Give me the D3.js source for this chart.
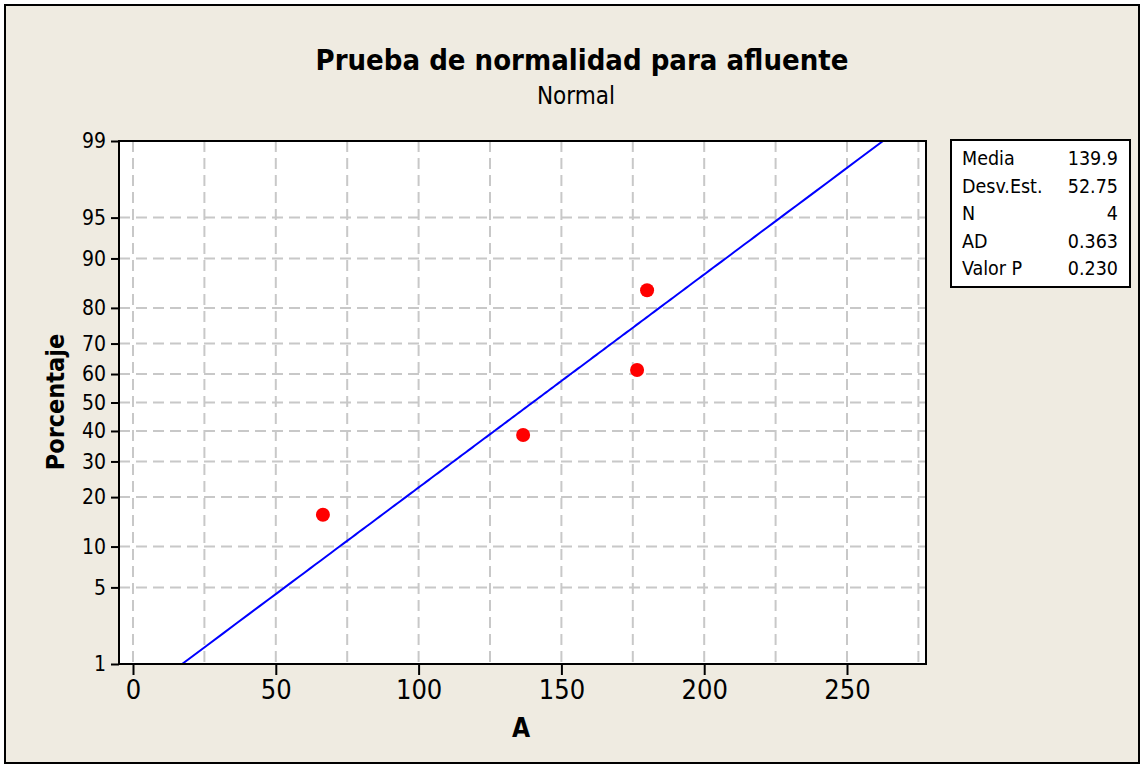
<!DOCTYPE html>
<html><head><meta charset="utf-8">
<script src="https://cdn.jsdelivr.net/npm/d3@7"></script>
<style>
html,body{margin:0;padding:0;background:#fff;}
svg{display:block;}
text{font-family:"DejaVu Sans Condensed","DejaVu Sans",sans-serif;fill:#000;}
</style></head>
<body>
<svg id="c" width="1144" height="768"></svg>
<script>
// ---- data ----
const titleText = "Prueba de normalidad para afluente";
const subtitleText = "Normal";
const xLabel = "A";
const yLabel = "Porcentaje";
const values = [66.5, 136.6, 176.5, 180.0];
const percents = [15.9, 38.6, 61.4, 84.1];
const xTicks = [0, 50, 100, 150, 200, 250];
const xGrid = [0, 25, 50, 75, 100, 125, 150, 175, 200, 225, 250, 275];
const yTicks = [1, 5, 10, 20, 30, 40, 50, 60, 70, 80, 90, 95, 99];
const statLabels = ["Media", "Desv.Est.", "N", "AD", "Valor P"];
const statValues = ["139.9", "52.75", "4", "0.363", "0.230"];
const fitMean = 139.9, fitSd = 52.75;

// inverse normal CDF (Acklam)
function qnorm(p){
  const a=[-3.969683028665376e+01,2.209460984245205e+02,-2.759285104469687e+02,1.383577518672690e+02,-3.066479806614716e+01,2.506628277459239e+00];
  const b=[-5.447609879822406e+01,1.615858368580409e+02,-1.556989798598866e+02,6.680131188771972e+01,-1.328068155288572e+01];
  const c=[-7.784894002430293e-03,-3.223964580411365e-01,-2.400758277161838e+00,-2.549671348159109e+00,4.374664141464968e+00,2.938163982698783e+00];
  const d=[7.784695709041462e-03,3.224671290700398e-01,2.445134137142996e+00,3.754408661907416e+00];
  const pl=0.02425, ph=1-pl; let q,r;
  if(p<pl){q=Math.sqrt(-2*Math.log(p));return (((((c[0]*q+c[1])*q+c[2])*q+c[3])*q+c[4])*q+c[5])/((((d[0]*q+d[1])*q+d[2])*q+d[3])*q+1);}
  if(p>ph){q=Math.sqrt(-2*Math.log(1-p));return -(((((c[0]*q+c[1])*q+c[2])*q+c[3])*q+c[4])*q+c[5])/((((d[0]*q+d[1])*q+d[2])*q+d[3])*q+1);}
  q=p-0.5;r=q*q;return (((((a[0]*r+a[1])*r+a[2])*r+a[3])*r+a[4])*r+a[5])*q/(((((b[0]*r+b[1])*r+b[2])*r+b[3])*r+b[4])*r+1);
}

const svg = d3.select("#c");
const W=1144,H=768;
const L=119, R=926, T=141, B=664;

svg.append("rect").attr("x",0).attr("y",0).attr("width",W).attr("height",H).attr("fill","#fff");
svg.append("rect").attr("x",5).attr("y",5).attr("width",1134).attr("height",758)
  .attr("fill","#EFEBE1").attr("stroke","#000").attr("stroke-width",2);

// scales
const x = d3.scaleLinear().domain([0,250]).range([133,847]);
const zLin = d3.scaleLinear().domain([qnorm(0.01), qnorm(0.99)]).range([B, T]);
function makeProbScale(lin){
  const s = p => lin(qnorm(p/100));
  s.copy = () => makeProbScale(lin.copy());
  s.range = () => lin.range();
  s.domain = () => [1,99];
  return s;
}
const y = makeProbScale(zLin);

// plot area
svg.append("rect").attr("x",L).attr("y",T).attr("width",R-L).attr("height",B-T).attr("fill","#fff");

// grid
const grid = svg.append("g").attr("stroke","#c8c8c8").attr("stroke-width",2).attr("stroke-dasharray","11,6");
grid.selectAll("line.v").data(xGrid).join("line")
  .attr("x1",d=>x(d)).attr("x2",d=>x(d)).attr("y1",T).attr("y2",B);
grid.selectAll("line.h").data(yTicks.filter(d=>d>1&&d<99)).join("line")
  .attr("x1",L).attr("x2",R).attr("y1",d=>y(d)).attr("y2",d=>y(d));

// fitted line
const clipId="clipP";
svg.append("clipPath").attr("id",clipId).append("rect").attr("x",L).attr("y",T).attr("width",R-L).attr("height",B-T);
const probs = d3.range(1, 99.01, 0.5);
const line = d3.line().x(p=>x(fitMean+fitSd*qnorm(p/100))).y(p=>y(p));
svg.append("path").datum(probs).attr("d",line).attr("fill","none").attr("stroke","#0000ff").attr("stroke-width",2)
  .attr("clip-path","url(#"+clipId+")");

// points
svg.selectAll("circle.pt").data(values).join("circle")
  .attr("cx",(d)=>x(d)).attr("cy",(d,i)=>y(percents[i])).attr("r",7).attr("fill","#ff0000");

// frame
svg.append("rect").attr("x",L).attr("y",T).attr("width",R-L).attr("height",B-T)
  .attr("fill","none").attr("stroke","#000").attr("stroke-width",2);

// axes
const xAxis = svg.append("g").attr("transform",`translate(0,${B})`)
  .call(d3.axisBottom(x).tickValues(xTicks).tickSize(11).tickPadding(5).tickFormat(d3.format("d")));
xAxis.select(".domain").remove();
xAxis.selectAll("line").attr("stroke","#000").attr("stroke-width",2);
xAxis.selectAll("text").attr("font-size",27).attr("font-family",null);

const yAxis = svg.append("g").attr("transform",`translate(${L},0)`)
  .call(d3.axisLeft(y).tickValues(yTicks).tickSize(8).tickPadding(5).tickFormat(d3.format("d")));
yAxis.select(".domain").remove();
yAxis.selectAll("line").attr("stroke","#000").attr("stroke-width",2);
yAxis.selectAll("text").attr("font-size",21).attr("font-family",null);

// titles
svg.append("text").attr("x",582).attr("y",70).attr("text-anchor","middle")
  .attr("font-size",29).attr("font-weight","bold").text(titleText);
svg.append("text").attr("x",576).attr("y",104).attr("text-anchor","middle")
  .attr("font-size",24).text(subtitleText);
svg.append("text").attr("x",521).attr("y",737).attr("text-anchor","middle")
  .attr("font-size",26).attr("font-weight","bold").text(xLabel);
svg.append("text").attr("transform","translate(64,402) rotate(-90)").attr("text-anchor","middle")
  .attr("font-size",25).attr("font-weight","bold").text(yLabel);

// stats box
const bx=951, by=140, bw=179, bh=147;
svg.append("rect").attr("x",bx).attr("y",by).attr("width",bw).attr("height",bh)
  .attr("fill","#fff").attr("stroke","#000").attr("stroke-width",2);
const rowH=27.5;
svg.selectAll("text.sl").data(statLabels).join("text")
  .attr("x",962).attr("y",(d,i)=>by+25+i*rowH).attr("font-size",19.5).text(d=>d);
svg.selectAll("text.sv").data(statValues).join("text")
  .attr("x",1118).attr("y",(d,i)=>by+25+i*rowH).attr("font-size",19.5).attr("text-anchor","end").text(d=>d);
</script>
</body></html>
